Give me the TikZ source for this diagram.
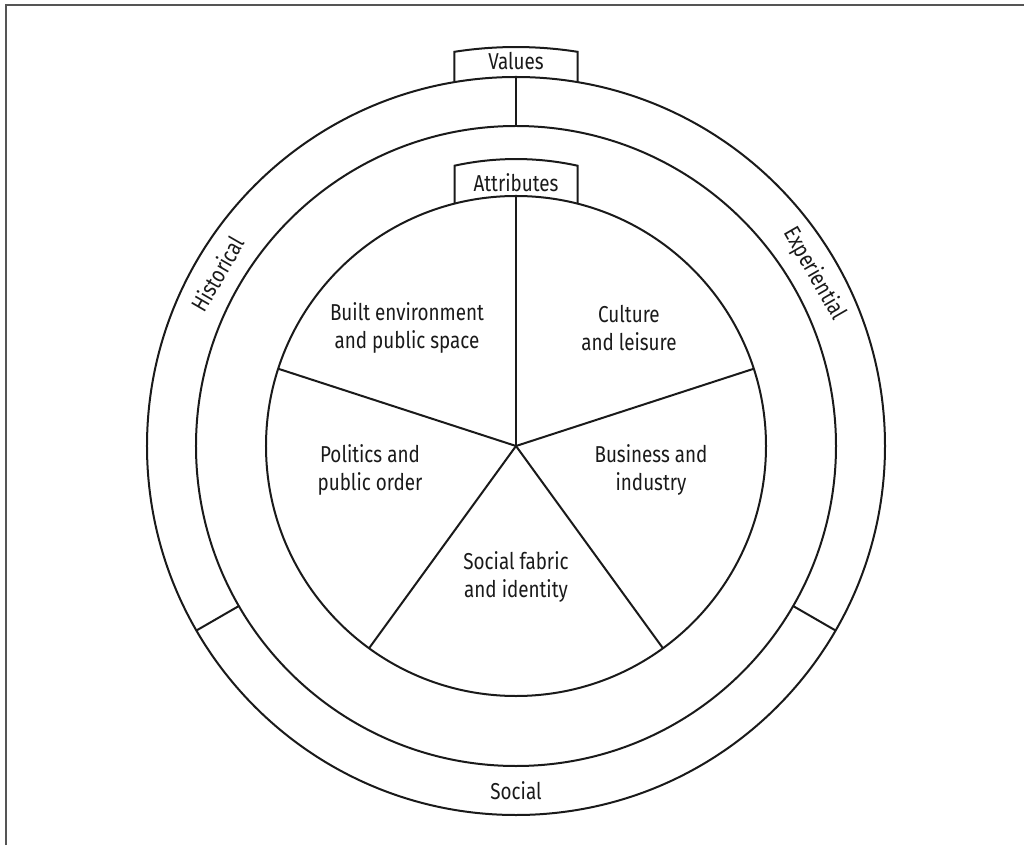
\documentclass[tikz,border=0pt]{standalone}
\usepackage{fontspec}
\setmainfont{Fira Sans}[FakeStretch=0.82]
\usepackage{tikz}
\usetikzlibrary{positioning}
\definecolor{wheelink}{HTML}{1a1a1a}
\definecolor{framegray}{HTML}{555555}

\begin{document}
\begin{tikzpicture}[x=1pt,y=1pt,
  wheel/.style={draw=wheelink,line width=2pt},
  lbl/.style={align=center,inner sep=0pt,text=wheelink,font=\fontsize{23}{28}\selectfont}]
  \useasboundingbox (-516,-399) rectangle (508,446);
  \draw[framegray,line width=2.6pt] (-510,-399) -- (-510,441) -- (508,441);
  % circles
  \draw[wheel] (0,0) circle[radius=250];
  \draw[wheel] (0,0) circle[radius=320];
  \draw[wheel] (0,0) circle[radius=369];
  % tabs
  \draw[wheel] (61.5,242.3) -- (61.5,280.3) arc[start angle=77.63,end angle=102.37,radius=287] -- (-61.5,242.3);
  \draw[wheel] (61.5,363.8) -- (61.5,394.2) arc[start angle=81.13,end angle=98.87,radius=399] -- (-61.5,363.8);
  % ring splits and pie spokes
  \foreach \a in {90,210,330}
    \draw[wheel] (\a:320) -- (\a:369);
  \foreach \a in {18,90,162,234,306}
    \draw[wheel] (0,0) -- (\a:250);
  % labels
  \node[lbl] (values) at (0,385) {Values};
  \node[lbl] (attributes) at (0,263) {Attributes};
  \node[lbl,rotate=60] (historical) at (150:344.5) {Historical};
  \node[lbl,rotate=-60] (experiential) at (30:344.5) {Experiential};
  \node[lbl] (social) at (270:344.5) {Social};
  \node[lbl] (built) at (-109,118) {Built environment\\and public space};
  \node[lbl] (culture) at (113,118) {Culture\\and leisure};
  \node[lbl] (politics) at (-146,-24) {Politics and\\public order};
  \node[lbl] (business) at (135,-24) {Business and\\industry};
  \node[lbl] (fabric) at (0,-131) {Social fabric\\and identity};
\end{tikzpicture}
\end{document}
